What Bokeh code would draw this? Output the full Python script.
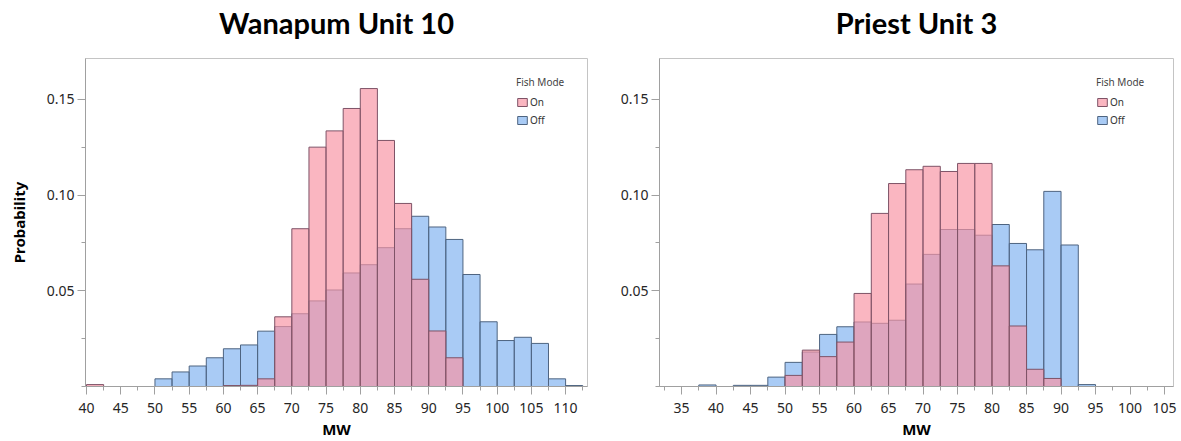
from bokeh.plotting import figure
from bokeh.layouts import row, column
from bokeh.models import (FixedTicker, Legend, LegendItem, Range1d,
                          NumeralTickFormatter)
from bokeh.core.properties import value
from bokeh.embed import file_html
from bokeh.resources import INLINE

BIN = 2.5

# Wanapum Unit 10: probability per 2.5 MW bin (left edges)
wan_left = [40 + BIN * i for i in range(29)]
wan_on = [0.001, 0, 0, 0, 0, 0, 0, 0, 0.0005, 0.0006, 0.004, 0.0364, 0.0824,
          0.125, 0.1335, 0.1452, 0.1556, 0.1285, 0.0956, 0.056, 0.029, 0.015,
          0, 0, 0, 0, 0, 0, 0]
wan_off = [0, 0, 0, 0, 0.004, 0.0076, 0.0107, 0.015, 0.0197, 0.0217, 0.0289,
           0.0313, 0.038, 0.0447, 0.0504, 0.0593, 0.0636, 0.0725, 0.0824,
           0.0889, 0.0833, 0.0768, 0.0585, 0.0338, 0.024, 0.0257, 0.0225,
           0.004, 0.0005]
wan_ticks = [40, 45, 50, 55, 60, 65, 70, 75, 80, 85, 90, 95, 100, 105, 110]

# Priest Unit 3
pri_left = [37.5 + BIN * i for i in range(23)]
pri_on = [0, 0, 0, 0, 0, 0.0058, 0.019, 0.0156, 0.0232, 0.0486, 0.0904, 0.106,
          0.1132, 0.115, 0.1123, 0.1165, 0.1165, 0.063, 0.0316, 0.009, 0.0042,
          0, 0]
pri_off = [0.0008, 0, 0.0006, 0.0006, 0.0049, 0.0126, 0.018, 0.0272, 0.0312,
           0.0337, 0.033, 0.0346, 0.0535, 0.069, 0.082, 0.082, 0.079, 0.0846,
           0.0747, 0.0714, 0.1019, 0.0739, 0.001]
pri_ticks = [35, 40, 45, 50, 55, 60, 65, 70, 75, 80, 85, 90, 95, 100, 105]

y_ticks = [0.05, 0.10, 0.15]
y_minor = [0, 0.025, 0.075, 0.125]

ON_FILL, ON_ALPHA, ON_LINE = "#F894A4", 0.68, "#7E5367"
OFF_FILL, OFF_ALPHA, OFF_LINE = "#6FA8EE", 0.6, "#4E6480"

TICK_FONT = "Noto Sans"
TITLE_FONT = "Lato"
HEAD_H = 44          # strip holding the chart headings
CHART_H = 441 - HEAD_H


def heading(text, width, center_px):
    """A bare strip that only carries the bold heading text."""
    h = figure(width=width, height=HEAD_H, output_backend="svg",
               toolbar_location=None, tools="",
               x_range=Range1d(0, width), y_range=Range1d(0, HEAD_H),
               min_border=0)
    h.axis.visible = False
    h.grid.visible = False
    h.outline_line_color = None
    h.text(x=[center_px], y=[HEAD_H - 22], text=[text], text_align="center",
           text_baseline="middle", text_font=value(TITLE_FONT),
           text_font_size="29px", text_font_style="bold", text_color="#000000")
    return h


def histogram(lefts, on, off, ticks, x_range, width, border_left,
              border_right, y_label, legend_x):
    p = figure(width=width, height=CHART_H, output_backend="svg",
               toolbar_location=None, tools="",
               x_range=Range1d(*x_range), y_range=Range1d(0, 0.1713),
               min_border_left=border_left, min_border_right=border_right,
               min_border_top=58 - HEAD_H, min_border_bottom=54)

    p.xgrid.visible = False
    p.ygrid.visible = False
    p.outline_line_color = "#c4c4c4"
    p.background_fill_color = "white"
    p.border_fill_color = "white"

    def bars(lv, hv):
        pairs = [(l, h) for l, h in zip(lv, hv) if h > 0]
        return [l for l, _ in pairs], [l + BIN for l, _ in pairs], [h for _, h in pairs]

    l, r, t = bars(lefts, off)
    off_r = p.quad(left=l, right=r, bottom=0, top=t, fill_color=OFF_FILL,
                   fill_alpha=OFF_ALPHA, line_color=OFF_LINE, line_width=1)
    l, r, t = bars(lefts, on)
    on_r = p.quad(left=l, right=r, bottom=0, top=t, fill_color=ON_FILL,
                  fill_alpha=ON_ALPHA, line_color=ON_LINE, line_width=1)

    minor_x = [tk + BIN for tk in ticks] + [ticks[0] - BIN]
    xa = p.xaxis[0]
    xa.ticker = FixedTicker(ticks=ticks, minor_ticks=minor_x)
    xa.axis_label = "MW"
    ya = p.yaxis[0]
    ya.ticker = FixedTicker(ticks=y_ticks, minor_ticks=y_minor)
    ya.formatter = NumeralTickFormatter(format="0.00")
    ya.axis_label = y_label
    for ax in (xa, ya):
        ax.axis_line_color = "#a0a0a0"
        ax.major_tick_line_color = "#a0a0a0"
        ax.minor_tick_line_color = "#a0a0a0"
        ax.major_tick_out = 8
        ax.major_tick_in = 0
        ax.minor_tick_out = 4
        ax.minor_tick_in = 0
        ax.major_label_text_font = TICK_FONT
        ax.major_label_text_font_size = "14px"
        ax.major_label_text_color = "#262626"
        ax.axis_label_text_font = TICK_FONT
        ax.axis_label_text_font_size = "15px"
        ax.axis_label_text_font_style = "bold"
        ax.axis_label_text_color = "#000000"
    xa.major_label_standoff = 8
    xa.axis_label_standoff = 3
    ya.major_label_standoff = 3
    ya.axis_label_standoff = 15

    legend = Legend(items=[LegendItem(label="On", renderers=[on_r]),
                           LegendItem(label="Off", renderers=[off_r])],
                    location=(legend_x, 257), title="Fish Mode")
    legend.title_text_font = TICK_FONT
    legend.title_text_font_size = "10px"
    legend.title_text_font_style = "normal"
    legend.title_text_color = "#444444"
    legend.title_standoff = 6
    legend.label_text_font = TICK_FONT
    legend.label_text_font_size = "10px"
    legend.label_text_color = "#333333"
    legend.label_standoff = 2
    legend.label_height = 10
    legend.glyph_width = 12
    legend.glyph_height = 10
    legend.spacing = 4
    legend.padding = 2
    legend.margin = 0
    legend.border_line_alpha = 0
    legend.background_fill_alpha = 0
    p.add_layout(legend)
    return p


p1 = histogram(wan_left, wan_on, wan_off, wan_ticks,
               (39.85, 113.2), 600, 85, 13, "Probability", 429)
p2 = histogram(pri_left, pri_on, pri_off, pri_ticks,
               (31.8, 106.3), 581, 59, 8, "", 435)
h1 = heading("Wanapum Unit 10", 600, 336)
h2 = heading("Priest Unit 3", 581, 316)

layout = column(row(h1, h2), row(p1, p2))
open("out.html", "w").write(file_html(layout, INLINE))
